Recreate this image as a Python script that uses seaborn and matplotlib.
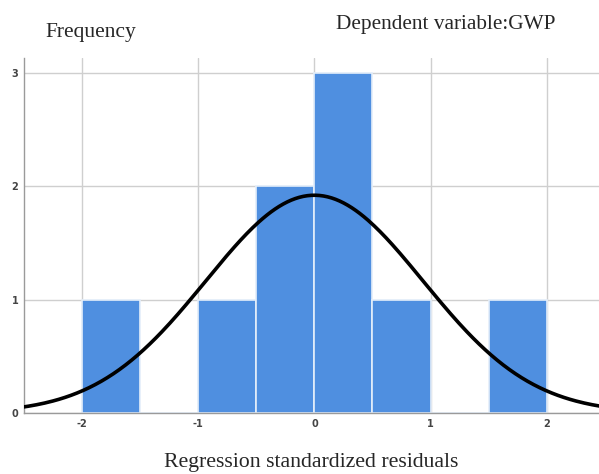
import numpy as np
import matplotlib
matplotlib.use("Agg")
import matplotlib.pyplot as plt
import seaborn as sns

bin_edges = [-2.0, -1.5, -1.0, -0.5, 0.0, 0.5, 1.0, 1.5, 2.0]
counts = [1, 0, 1, 2, 3, 1, 0, 1]
res_mean = 0.0
res_std = 0.935
x_ticks = [-2, -1, 0, 1, 2]
y_ticks = [0, 1, 2, 3]

sns.set_style("white")
plt.rcParams['font.family'] = ['DejaVu Sans']

fig = plt.figure(figsize=(5.99, 4.74), dpi=100)
ax = fig.add_axes([24 / 599, 1 - 413 / 474, 1 - 24 / 599, (413 - 58) / 474])

bin_mids = [(bin_edges[i] + bin_edges[i + 1]) / 2 for i in range(len(counts))]
sns.histplot(x=bin_mids, weights=counts, bins=bin_edges, color="#4f8fe0",
             edgecolor="#e4eefa", linewidth=1.2, alpha=1, ax=ax, zorder=2)

# curva normal
n = sum(counts)
largura = bin_edges[1] - bin_edges[0]
xs = np.linspace(-2.6, 2.6, 300)
ys = n * largura * np.exp(-0.5 * ((xs - res_mean) / res_std) ** 2) / (res_std * np.sqrt(2 * np.pi))
sns.lineplot(x=xs, y=ys, color="black", linewidth=2.6, ax=ax, zorder=3)

ax.set_xlim(-2.5, 2.45)
ax.set_ylim(0, 3.13)
ax.set_xticks(x_ticks)
ax.set_yticks(y_ticks)
ax.set_xticklabels([str(t) for t in x_ticks])
ax.tick_params(axis="both", labelsize=7, colors="#444444", length=0, pad=4)
for lab in ax.get_xticklabels() + ax.get_yticklabels():
    lab.set_fontweight("bold")
ax.grid(True, color="#cfcfcf", linewidth=1.0, zorder=0)
ax.set_axisbelow(True)
for s in ["top", "right"]:
    ax.spines[s].set_visible(False)
for s in ["left", "bottom"]:
    ax.spines[s].set_color("#9a9a9a")
    ax.spines[s].set_linewidth(1.0)
ax.set_xlabel("")
ax.set_ylabel("")

serif = ["Liberation Serif", "DejaVu Serif"]
fig.text(45 / 599, 1 - 32 / 474, "Frequency", fontsize=15.5, family=serif, va="center", ha="left")
fig.text(446 / 599, 1 - 25 / 474, "Dependent variable:GWP", fontsize=15.3, family=serif, va="center", ha="center")
fig.text(311 / 599, 1 - 462 / 474, "Regression standardized residuals", fontsize=15.7, family=serif, va="center", ha="center")

plt.savefig("out.png", dpi=100)
